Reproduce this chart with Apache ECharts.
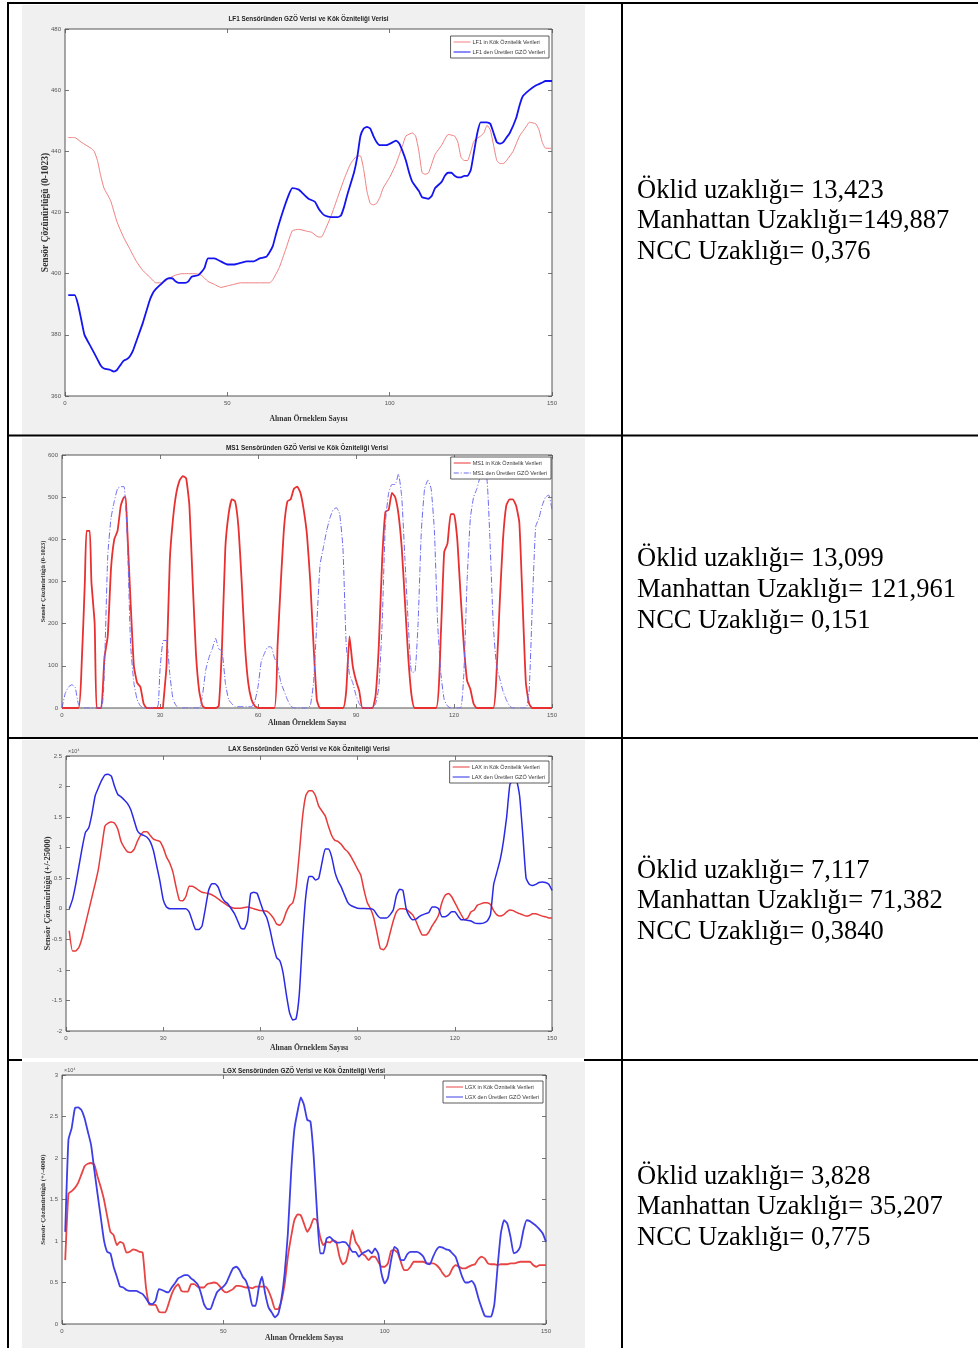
<!DOCTYPE html>
<html><head><meta charset="utf-8">
<script src="https://cdn.jsdelivr.net/npm/echarts@6/dist/echarts.min.js"></script>
<style>html,body{margin:0;padding:0;background:#fff;}#c{width:978px;height:1348px;}</style>
</head><body><div id="c"></div>
<script>
// ---------- DATA ----------
const lf1Names = ['LF1 in Kök Öznitelik Verileri', 'LF1 den Üretilen GZÖ Verileri'];
const lf1Kok = [[1,444.5],[3,444.5],[5,443],[8,441],[9,440],[10,437],[11,432],[12,428],[14,424],[16,417],[18,412],[20,408],[22,404],[24,401],[26,399],[28,397],[30,397],[32,398.5],[34,399.5],[36,400],[40,400],[42,399.5],[44,397.5],[46,396.5],[48,395.5],[50,396],[52,396.5],[54,397],[60,397],[63,397],[64,398],[66,402],[68,408],[70,414],[72,414.5],[74,414],[76,413.5],[78,412],[79,412],[80,414],[82,419],[84,425],[86,431],[88,436],[90,438.5],[91,438.5],[92,434],[93,427],[94,423],[95,422.5],[96,423],[97,425],[98,428],[100,431.5],[102,436],[104,442],[105,445],[107,446],[108,445],[109,440],[110,433],[111,432.5],[112,433],[114,439],[116,442],[118,445.5],[120,445],[121,443],[122,438],[123,437],[124,437],[125,440],[126,443.5],[128,445],[129,446],[130,448.5],[131,447],[132,442],[133,437],[134,436],[135,436],[136,437],[138,440],[140,445],[142,448],[143,449.5],[145,449],[146,447],[147,443],[148,441],[150,441]];
const lf1Gzo = [[1,393],[3,393],[4,390],[5,385],[6,380],[8,376],[10,372],[11,370],[12,369],[14,368.5],[15,368],[16,368.5],[17,370],[18,371.5],[19,372],[20,373],[21,375],[22,378],[24,384],[26,391],[27,393.5],[28,395],[30,397],[31,398],[32,398.5],[33,398.5],[34,397.5],[35,397],[37,397],[38,397.5],[39,399],[41,399.5],[42,400.5],[43,402],[44,405],[46,405],[48,404],[50,403],[52,403],[54,403.5],[56,404],[58,404],[60,405],[62,405.5],[63,407],[64,409],[65,413],[67,420],[69,426],[70,428],[72,427.5],[73,426.5],[75,424.5],[77,423.5],[78,421.5],[79,420],[80,419],[82,418.5],[84,418.5],[85,419],[86,422],[87,426],[89,433],[90,438],[91,445],[92,447.5],[93,448],[94,447.5],[95,445],[96,443],[97,442],[99,442],[101,443],[102,443.5],[103,442.5],[104,440],[105,437],[106,433],[107,430],[109,427],[110,425],[112,424.5],[113,425.5],[114,428],[116,430],[117,432],[118,433],[119,433],[120,432],[121,431.5],[122,431.5],[123,432],[124,432],[125,434],[126,440],[127,446],[128,449.5],[130,449.5],[131,449],[132,446],[133,443],[134,442.5],[135,443],[136,444.5],[137,446],[139,451],[140,455],[141,458],[143,460],[145,461.5],[147,462.5],[148,463],[150,463]];

const ms1Names = ['MS1 in Kök Öznitelik Verileri', 'MS1 den Üretilen GZÖ Verileri'];
const ms1Kok = [[0,0],[5,0],[6,100],[7,300],[7.5,420],[8.5,420],[9,300],[10,200],[10.6,0],[12,0],[13,120],[14,170],[15,330],[16,400],[17,420],[18,480],[19,500],[19.5,500],[20,420],[21,250],[22,100],[23,60],[24,50],[25,10],[26,0],[30.8,0],[31,10],[32,100],[33,350],[34,450],[35,510],[36,540],[37,550],[38,545],[39,480],[40,300],[41,130],[42,40],[43,5],[44,0],[47,0],[48,5],[49,150],[50,380],[51,460],[52,495],[53,490],[54,430],[55,300],[56,150],[57,60],[58,20],[59,5],[60,0],[65,0],[66,150],[67,300],[68,430],[69,490],[70,495],[71,520],[72,525],[73,510],[74,470],[75,410],[76,300],[77,150],[78,20],[79,0],[86,0],[87,40],[88,170],[89,100],[90,65],[91,40],[92,0],[95,0],[96,30],[97,150],[98,350],[99,465],[100,470],[101,510],[102,500],[103,460],[104,380],[105,250],[106,120],[107,30],[108,0],[114.5,0],[116,180],[117,370],[118,390],[119,460],[120,460],[121,400],[122,270],[123,150],[124,65],[125,45],[126,10],[127,0],[132,0],[133,80],[134,250],[135,400],[136,480],[137,495],[138,495],[139,480],[140,440],[141,250],[142,60],[143,10],[144,0],[150,0]];
const ms1Gzo = [[0,0],[1,35],[2,50],[3,55],[4,50],[5,10],[6,0],[12,0],[13,100],[14,360],[15,450],[16,490],[17,520],[18,525],[19,525],[20,400],[21,150],[22,60],[23,20],[24,5],[25,0],[29,0],[29.5,10],[30,90],[31,160],[32,160],[33,80],[34,20],[35,5],[36,0],[42,0],[43,30],[44,90],[45,120],[46,140],[47,165],[48,140],[49,135],[50,60],[51,20],[52,10],[53,3],[58,3],[59,15],[60,50],[61,110],[62,130],[63,145],[64,145],[65,120],[66,100],[67,60],[68,40],[69,20],[70,5],[71,0],[75,0],[76,5],[77,60],[78,200],[79,340],[80,380],[81,420],[82,450],[83,470],[84,475],[85,460],[86,380],[87,150],[88,80],[89,60],[90,30],[91,10],[92,0],[95,0],[96,10],[97,50],[98,200],[99,440],[100,510],[101,530],[102,530],[103,555],[104,500],[105,350],[106,200],[107,85],[108,85],[109,200],[110,420],[111,520],[112,540],[113,520],[114,420],[115,200],[116,80],[117,20],[118,5],[119,0],[122,0],[123,80],[124,300],[125,450],[126,500],[127,520],[128,545],[129,545],[130,545],[131,400],[132,200],[133,100],[134,70],[135,40],[136,20],[137,5],[138,0],[142,0],[143,40],[144,250],[145,430],[146,450],[147,480],[148,500],[149,505],[150,470]];

const laxNames = ['LAX in Kök Öznitelik Verileri', 'LAX den Üretilen GZÖ Verileri'];
const laxKok = [[1,-0.36],[2,-0.69],[3,-0.69],[4,-0.63],[5,-0.47],[6,-0.25],[7,-0.03],[8,0.19],[9,0.41],[10,0.65],[11,1.0],[12,1.35],[13,1.4],[14,1.42],[15,1.4],[16,1.3],[17,1.1],[18,1.0],[19,0.93],[20,0.92],[21,0.97],[22,1.1],[23,1.2],[24,1.26],[25,1.26],[26,1.2],[27,1.14],[28,1.12],[29,1.1],[30,1.0],[31,0.85],[32,0.75],[33,0.6],[34,0.35],[35,0.14],[36,0.13],[37,0.2],[38,0.37],[39,0.37],[40,0.34],[41,0.3],[42,0.27],[44,0.25],[46,0.2],[48,0.12],[50,0.05],[52,0.01],[54,0.01],[56,0.03],[58,0.0],[60,-0.03],[62,-0.04],[64,-0.15],[65,-0.25],[66,-0.27],[67,-0.2],[68,-0.05],[69,0.05],[70,0.1],[71,0.35],[72,0.9],[73,1.5],[74,1.85],[75,1.93],[76,1.93],[77,1.85],[78,1.68],[79,1.6],[80,1.52],[81,1.35],[82,1.2],[83,1.12],[84,1.1],[85,1.05],[86,0.98],[87,0.93],[88,0.85],[89,0.75],[90,0.65],[91,0.55],[92,0.3],[93,0.1],[94,0.0],[95,-0.15],[96,-0.4],[97,-0.65],[98,-0.67],[99,-0.6],[100,-0.4],[101,-0.2],[102,-0.05],[103,0.0],[104,0.0],[105,-0.01],[106,-0.05],[107,-0.1],[108,-0.2],[109,-0.33],[110,-0.43],[111,-0.43],[112,-0.38],[113,-0.28],[114,-0.2],[115,-0.1],[116,0.1],[117,0.22],[118,0.25],[119,0.2],[120,0.1],[121,0.0],[122,-0.1],[123,-0.18],[124,-0.15],[125,-0.05],[126,-0.02],[127,0.06],[128,0.08],[129,0.1],[130,0.1],[131,0.07],[132,-0.03],[133,-0.1],[134,-0.12],[135,-0.1],[136,-0.05],[137,-0.02],[138,-0.03],[139,-0.06],[140,-0.08],[141,-0.1],[142,-0.12],[143,-0.11],[144,-0.08],[145,-0.08],[146,-0.1],[147,-0.12],[148,-0.13],[149,-0.15],[150,-0.15]];
const laxGzo = [[1,0.0],[2,0.15],[3,0.4],[4,0.7],[5,1.0],[6,1.25],[7,1.32],[8,1.55],[9,1.85],[10,1.98],[11,2.1],[12,2.19],[13,2.2],[14,2.17],[15,2.0],[16,1.87],[17,1.83],[18,1.78],[19,1.72],[20,1.62],[21,1.45],[22,1.28],[23,1.22],[24,1.2],[25,1.17],[26,1.1],[27,0.95],[28,0.7],[29,0.45],[30,0.15],[31,0.03],[32,0.0],[37,0.0],[38,-0.05],[39,-0.2],[40,-0.34],[41,-0.34],[42,-0.28],[43,0.0],[44,0.3],[45,0.41],[46,0.41],[47,0.35],[48,0.2],[49,0.12],[50,0.08],[51,0.0],[52,-0.08],[53,-0.2],[54,-0.32],[55,-0.33],[56,-0.2],[57,0.25],[58,0.27],[59,0.25],[60,0.1],[61,-0.05],[62,-0.15],[63,-0.35],[64,-0.6],[65,-0.8],[66,-0.85],[67,-1.05],[68,-1.4],[69,-1.7],[70,-1.82],[71,-1.8],[72,-1.4],[73,-0.5],[74,0.2],[75,0.53],[76,0.53],[77,0.47],[78,0.5],[79,0.75],[80,0.98],[81,0.98],[82,0.85],[83,0.6],[84,0.45],[85,0.35],[86,0.22],[87,0.1],[88,0.05],[89,0.03],[90,0.01],[94,0.0],[95,-0.02],[96,-0.1],[97,-0.15],[99,-0.15],[100,-0.1],[101,-0.02],[102,0.22],[103,0.32],[104,0.3],[105,0.0],[106,-0.12],[107,-0.18],[108,-0.17],[109,-0.13],[110,-0.1],[111,-0.08],[112,-0.06],[113,0.03],[114,0.03],[115,0.0],[116,-0.13],[117,-0.13],[118,-0.1],[119,-0.05],[120,-0.05],[121,-0.12],[122,-0.18],[123,-0.18],[124,-0.19],[125,-0.2],[126,-0.23],[127,-0.24],[128,-0.24],[129,-0.23],[130,-0.2],[131,-0.1],[132,0.4],[133,0.6],[134,0.8],[135,1.1],[136,1.5],[137,2.03],[138,2.1],[139,2.1],[140,1.85],[141,1.2],[142,0.5],[143,0.4],[144,0.38],[145,0.4],[146,0.43],[147,0.44],[148,0.43],[149,0.4],[150,0.3]];

const lgxNames = ['LGX in Kök Öznitelik Verileri', 'LGX den Üretilen GZÖ Verileri'];
const lgxKok = [[1,0.77],[2,1.57],[3,1.6],[4,1.64],[5,1.7],[6,1.8],[7,1.9],[8,1.93],[9,1.94],[10,1.92],[11,1.78],[12,1.65],[13,1.5],[14,1.3],[15,1.11],[16,1.07],[17,0.95],[18,0.99],[19,0.97],[20,0.86],[21,0.87],[22,0.9],[23,0.89],[24,0.87],[25,0.86],[26,0.45],[27,0.24],[28,0.23],[29,0.23],[30,0.15],[31,0.14],[32,0.14],[33,0.24],[34,0.36],[35,0.44],[36,0.48],[37,0.4],[38,0.39],[39,0.39],[40,0.48],[41,0.48],[42,0.45],[43,0.44],[44,0.44],[45,0.48],[46,0.49],[47,0.5],[48,0.49],[49,0.45],[50,0.4],[51,0.38],[52,0.4],[53,0.42],[54,0.46],[55,0.46],[56,0.45],[57,0.44],[58,0.44],[59,0.43],[60,0.45],[63,0.45],[64,0.4],[65,0.3],[66,0.18],[67,0.18],[68,0.28],[69,0.48],[70,0.81],[71,1.05],[72,1.25],[73,1.32],[74,1.31],[75,1.21],[76,1.11],[77,1.17],[78,1.27],[79,1.25],[80,1.05],[81,0.95],[82,0.99],[83,0.98],[84,1.01],[85,0.99],[86,0.81],[87,0.72],[88,0.75],[89,0.91],[90,1.13],[91,0.99],[92,0.93],[93,0.85],[94,0.82],[95,0.77],[96,0.81],[97,0.81],[98,0.75],[99,0.69],[100,0.69],[101,0.73],[102,0.88],[103,0.89],[104,0.86],[105,0.75],[106,0.65],[107,0.65],[108,0.69],[109,0.75],[112,0.75],[113,0.73],[115,0.73],[116,0.71],[117,0.67],[118,0.61],[119,0.57],[120,0.59],[121,0.67],[122,0.71],[123,0.69],[124,0.67],[125,0.67],[126,0.69],[127,0.71],[128,0.72],[129,0.78],[130,0.81],[131,0.79],[132,0.73],[133,0.72],[134,0.72],[135,0.71],[136,0.72],[138,0.72],[139,0.73],[140,0.73],[141,0.74],[142,0.75],[145,0.75],[146,0.71],[147,0.69],[148,0.71],[150,0.71]];
const lgxGzo = [[1,1.11],[2,2.22],[3,2.36],[4,2.6],[5,2.61],[6,2.58],[7,2.48],[8,2.32],[9,2.16],[10,1.86],[11,1.57],[12,1.29],[13,1.01],[14,0.87],[15,0.85],[16,0.69],[17,0.57],[18,0.45],[19,0.44],[20,0.41],[21,0.4],[23,0.4],[24,0.38],[25,0.36],[26,0.31],[27,0.25],[28,0.24],[29,0.28],[30,0.42],[31,0.41],[32,0.39],[33,0.38],[34,0.44],[35,0.49],[36,0.55],[37,0.57],[38,0.59],[39,0.59],[40,0.55],[41,0.52],[42,0.48],[43,0.38],[44,0.24],[45,0.18],[46,0.18],[47,0.28],[48,0.38],[49,0.42],[50,0.45],[51,0.5],[52,0.59],[53,0.67],[54,0.69],[55,0.65],[56,0.57],[57,0.52],[58,0.4],[59,0.22],[60,0.22],[61,0.44],[62,0.57],[63,0.36],[64,0.2],[65,0.14],[66,0.08],[67,0.12],[68,0.3],[69,0.61],[70,1.09],[71,1.82],[72,2.34],[73,2.56],[74,2.73],[75,2.64],[76,2.46],[77,2.44],[78,2.02],[79,1.37],[80,0.85],[81,0.85],[82,1.03],[83,1.05],[84,1.01],[85,0.98],[86,0.98],[87,0.99],[88,0.98],[89,0.93],[90,0.87],[91,0.87],[92,0.81],[93,0.85],[94,0.87],[95,0.89],[96,0.85],[97,0.91],[98,0.85],[99,0.61],[100,0.49],[101,0.55],[102,0.77],[103,0.93],[104,0.9],[105,0.77],[106,0.77],[107,0.84],[108,0.87],[110,0.87],[111,0.85],[112,0.81],[113,0.73],[114,0.72],[115,0.81],[116,0.89],[117,0.93],[118,0.92],[119,0.9],[120,0.89],[121,0.85],[122,0.81],[123,0.69],[124,0.57],[125,0.5],[126,0.5],[127,0.52],[128,0.46],[129,0.32],[130,0.2],[131,0.1],[132,0.09],[133,0.09],[134,0.24],[135,0.69],[136,1.09],[137,1.25],[138,1.21],[139,1.05],[140,0.85],[141,0.87],[142,0.93],[143,1.13],[144,1.25],[145,1.24],[146,1.21],[147,1.18],[148,1.14],[149,1.09],[150,0.99]];

const titles = ['LF1 Sensöründen GZÖ Verisi ve Kök Özniteliği Verisi','MS1 Sensöründen GZÖ Verisi ve Kök Özniteliği Verisi','LAX Sensöründen GZÖ Verisi ve Kök Özniteliği Verisi','LGX Sensöründen GZÖ Verisi ve Kök Özniteliği Verisi'];
const yLabels = ['Sensör Çözünürlüğü (0-1023)','Sensör Çözünürlüğü (0-1023)','Sensör Çözünürlüğü (+/-25000)','Sensör Çözünürlüğü (+/-4000)'];
const xLabel = 'Alınan Örneklem Sayısı';
const metrics = [
  ['Öklid uzaklığı= 13,423','Manhattan Uzaklığı=149,887','NCC Uzaklığı= 0,376'],
  ['Öklid uzaklığı= 13,099','Manhattan Uzaklığı= 121,961','NCC Uzaklığı= 0,151'],
  ['Öklid uzaklığı= 7,117','Manhattan Uzaklığı= 71,382','NCC Uzaklığı= 0,3840'],
  ['Öklid uzaklığı= 3,828','Manhattan Uzaklığı= 35,207','NCC Uzaklığı= 0,775']
];

// ---------- LAYOUT / STYLE ----------
const solidIcon = 'path://M0,0H17V1H0Z';
const dashDotIcon = 'path://M0,0H5V1H0Z M7,0H8V1H7Z M10,0H15V1H10Z M16,0H17V1H16Z';
const panels = [
  {bg:[22,5,563,430], grid:{left:65,top:29,width:487,height:367}, xi:50, y:[360,480,20], exp:false,
   s:[{n:lf1Names[0],d:lf1Kok,c:'#f08080',w:1},{n:lf1Names[1],d:lf1Gzo,c:'#1414f0',w:1.8}],
   titleY:19, ylx:46, ylSize:9.5, xly:419, leg:{right:429,top:36}, textY:[191,221.5,252.5]},
  {bg:[22,438,563,299], grid:{left:62,top:455,width:490,height:253}, xi:30, y:[0,600,100], exp:false,
   s:[{n:ms1Names[0],d:ms1Kok,c:'#e83030',w:1.8},{n:ms1Names[1],d:ms1Gzo,c:'#6a6af0',w:1,dash:[6,2,1,2],icon:dashDotIcon}],
   titleY:448, ylx:43, ylSize:6.5, xly:723, leg:{right:427,top:457}, textY:[559,590,621]},
  {bg:[22,740,563,318], grid:{left:66,top:756,width:486,height:275}, xi:30, y:[-2,2.5,0.5], exp:true,
   s:[{n:laxNames[0],d:laxKok,c:'#e83a3a',w:1.5},{n:laxNames[1],d:laxGzo,c:'#2a2ae6',w:1.5}],
   titleY:749, ylx:48, ylSize:8.5, xly:1048, leg:{right:429,top:761}, textY:[871,901.5,932]},
  {bg:[22,1062,563,286], grid:{left:62,top:1075,width:484,height:249}, xi:50, y:[0,3,0.5], exp:true,
   s:[{n:lgxNames[0],d:lgxKok,c:'#e84444',w:1.8},{n:lgxNames[1],d:lgxGzo,c:'#3e3ee6',w:1.8}],
   titleY:1071, ylx:43, ylSize:7, xly:1338, leg:{right:435,top:1081}, textY:[1177,1207.5,1238]}
];

const axisCol = '#555';
const grid = [], xAxis = [], yAxis = [], series = [], legend = [], graphic = [];
panels.forEach((p, i) => {
  grid.push(Object.assign({show:true, backgroundColor:'#fff', borderColor:axisCol, borderWidth:1, containLabel:false}, p.grid));
  const tick = {inside:true, length:4, lineStyle:{color:axisCol, width:0.8}};
  const lab = {fontSize:6, color:'#555', fontFamily:'Liberation Sans', margin:4};
  const line = {show:false, onZero:false};
  xAxis.push({gridIndex:i, type:'value', min:0, max:150, interval:p.xi, axisLine:line, axisTick:tick, axisLabel:lab, splitLine:{show:false}});
  xAxis.push({gridIndex:i, type:'value', position:'top', min:0, max:150, interval:p.xi, axisLine:line, axisTick:tick, axisLabel:{show:false}, splitLine:{show:false}});
  yAxis.push({gridIndex:i, type:'value', min:p.y[0], max:p.y[1], interval:p.y[2], axisLine:line, axisTick:tick, axisLabel:lab, splitLine:{show:false}});
  yAxis.push({gridIndex:i, type:'value', position:'right', min:p.y[0], max:p.y[1], interval:p.y[2], axisLine:line, axisTick:tick, axisLabel:{show:false}, splitLine:{show:false}});
  p.s.forEach(s => {
    series.push({type:'line', name:s.n, xAxisIndex:2*i, yAxisIndex:2*i, data:s.d, symbol:'none', smooth:0.15, color:s.c,
      lineStyle:{color:s.c, width:s.w, type: s.dash || 'solid'}, animation:false, z:3});
  });
  legend.push({data:p.s.map(s=>({name:s.n, icon:s.icon || solidIcon, itemStyle:{color:s.c}})), orient:'vertical', right:p.leg.right, top:p.leg.top, itemWidth:17, itemHeight:1.6, itemGap:4,
    padding:[3,4,3,3], borderColor:'#333', borderWidth:0.8, backgroundColor:'#fff', selectedMode:false,
    textStyle:{fontSize:5.5, color:'#333', fontFamily:'Liberation Sans', padding:[0,0,0,-3]}});
  const [bx,by,bw,bh] = p.bg;
  graphic.push({type:'rect', shape:{x:bx,y:by,width:bw,height:bh}, style:{fill:'#f0f0f0'}, z:-10, silent:true});
  const cx = p.grid.left + p.grid.width/2;
  graphic.push({type:'text', x:cx, y:p.titleY, scaleX:0.85, style:{text:titles[i], font:'bold 7.5px "Liberation Sans"', fill:'#222', align:'center', verticalAlign:'middle'}, z:5});
  graphic.push({type:'text', x:cx, y:p.xly, scaleX:0.9, style:{text:xLabel, font:'bold 8.5px "Liberation Serif"', fill:'#333', align:'center', verticalAlign:'middle'}, z:5});
  graphic.push({type:'text', x:p.ylx, y:p.grid.top+p.grid.height/2, rotation:Math.PI/2, style:{text:yLabels[i], font:'bold '+p.ylSize+'px "Liberation Serif"', fill:'#333', align:'center', verticalAlign:'middle'}, z:5});
  if (p.exp) graphic.push({type:'text', x:p.grid.left+2, y:p.grid.top-5, style:{text:'×10⁴', font:'5.5px "Liberation Sans"', fill:'#555', align:'left', verticalAlign:'middle'}, z:5});
  metrics[i].forEach((t, k) => {
    graphic.push({type:'text', x:637, y:p.textY[k], style:{text:t, font:'26.5px "Liberation Serif"', fill:'#000', align:'left', verticalAlign:'middle'}, z:5});
  });
});

// table lines
const L = (x1,y1,x2,y2) => graphic.push({type:'line', shape:{x1,y1,x2,y2}, style:{stroke:'#000', lineWidth:2}, z:50, silent:true});
L(7,3,978,3); L(8,3,8,1348); L(622,3,622,1348);
L(8,435.5,978,435.5); L(8,738,978,738); L(584,1060,978,1060);
L(8,1060,22,1060);

const chart = echarts.init(document.getElementById('c'), null, {renderer:'canvas'});
chart.setOption({backgroundColor:'#fff', animation:false, grid, xAxis, yAxis, series, legend, graphic});
</script>
</body></html>
